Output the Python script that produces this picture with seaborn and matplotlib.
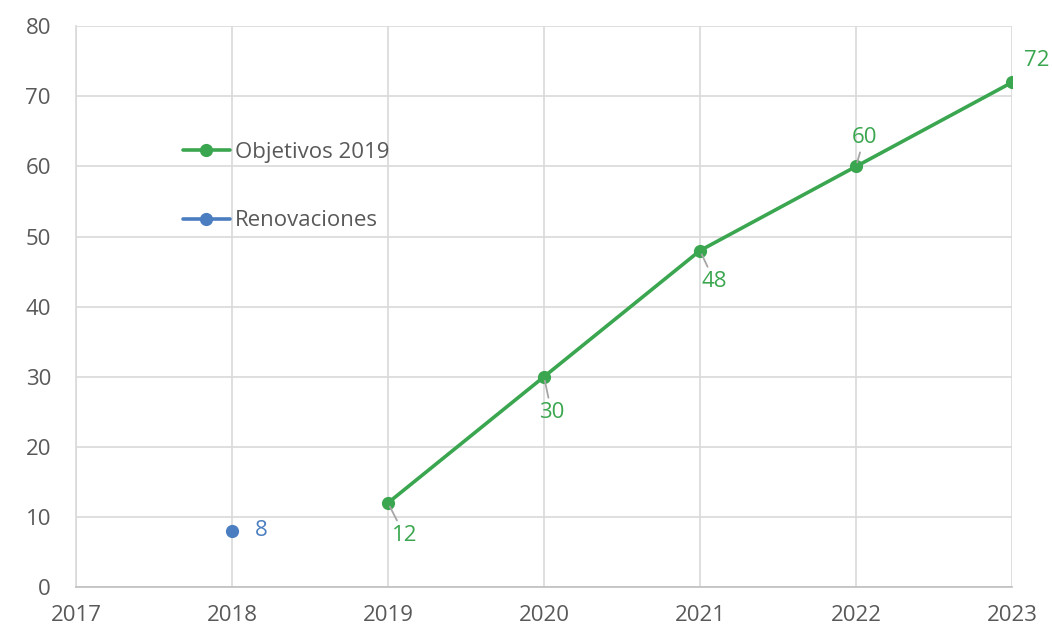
import matplotlib
matplotlib.use("Agg")
import matplotlib.pyplot as plt
import seaborn as sns
import pandas as pd

years_obj = [2019, 2020, 2021, 2022, 2023]
values_obj = [12, 30, 48, 60, 72]
years_ren = [2018]
values_ren = [8]
x_ticks = [2017, 2018, 2019, 2020, 2021, 2022, 2023]
y_ticks = [0, 10, 20, 30, 40, 50, 60, 70, 80]
label_obj = "Objetivos 2019"
label_ren = "Renovaciones"

sns.set_theme(style="white")
plt.rcParams['font.family'] = ['Open Sans', 'DejaVu Sans']

green = "#3BA650"
blue = "#4A7EC0"
grid = "#D9D9D9"
txt = "#595959"
fs = 16

fig = plt.figure(figsize=(10.52, 6.26), dpi=100)
ax = fig.add_axes([0.0722, 0.0623, 0.8898, 0.8957])

df_obj = pd.DataFrame({"year": years_obj, "value": values_obj})
df_ren = pd.DataFrame({"year": years_ren, "value": values_ren})

sns.lineplot(data=df_obj, x="year", y="value", ax=ax, color=green, lw=2.6,
             marker="o", markersize=9.5, markeredgewidth=0, label=label_obj, zorder=3)
sns.lineplot(data=df_ren, x="year", y="value", ax=ax, color=blue, lw=2.6,
             marker="o", markersize=9.5, markeredgewidth=0, label=label_ren, zorder=3)

ax.set_xlim(2017, 2023)
ax.set_ylim(0, 80)
ax.set_xticks(x_ticks)
ax.set_yticks(y_ticks)
ax.set_xticklabels([str(v) for v in x_ticks])
ax.grid(True, color=grid, lw=1.2)
ax.set_axisbelow(True)
for s in ["top", "right"]:
    ax.spines[s].set_visible(False)
ax.spines["left"].set_color(grid)
ax.spines["left"].set_linewidth(1.2)
ax.spines["bottom"].set_color("#BFBFBF")
ax.spines["bottom"].set_linewidth(1.2)
ax.tick_params(axis="both", length=0, labelsize=fs, colors=txt)
ax.tick_params(axis="x", pad=13)
ax.tick_params(axis="y", pad=18)
ax.set_xlabel("")
ax.set_ylabel("")

# data labels with leader lines (offsets in points)
offsets = {2019: (12, -23.5), 2020: (5.5, -26), 2021: (10.5, -22.5), 2022: (6, 21), 2023: (17.5, 16)}
for x, y in zip(years_obj, values_obj):
    dx, dy = offsets[x]
    ax.annotate(str(y), xy=(x, y), xytext=(dx, dy), textcoords="offset points",
                ha="center", va="center", color=green, fontsize=fs,
                arrowprops=dict(arrowstyle="-", color="#A6A6A6", lw=1.3,
                                shrinkA=1, shrinkB=3) if x != 2023 else None)
for x, y in zip(years_ren, values_ren):
    ax.annotate(str(y), xy=(x, y), xytext=(21, 0), textcoords="offset points",
                ha="center", va="center", color=blue, fontsize=fs)

leg = ax.legend(loc="upper left", bbox_to_anchor=(0.105, 0.81), frameon=False,
                fontsize=fs, labelspacing=2.15, handlelength=2.1, handletextpad=0.25,
                borderaxespad=0)
for t in leg.get_texts():
    t.set_color(txt)

fig.savefig("out.png", dpi=100, facecolor="white")
